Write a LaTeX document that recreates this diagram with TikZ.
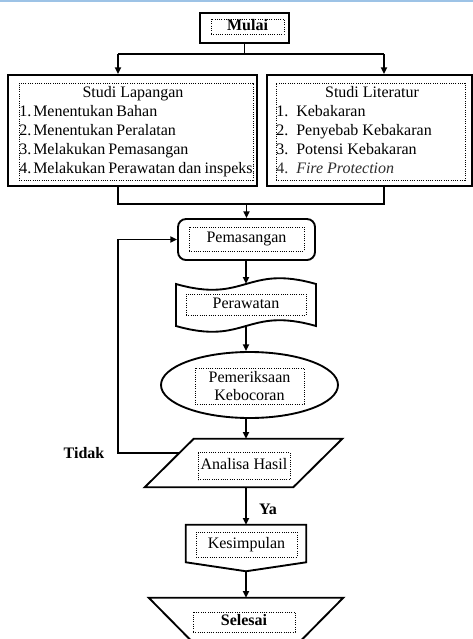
\documentclass[tikz,border=0pt]{standalone}
\usepackage{fontspec}
\setmainfont{Liberation Serif}
\usepackage{tikz}
\usetikzlibrary{arrows.meta}
\usetikzlibrary{positioning}
\usetikzlibrary{shapes.geometric}
\definecolor{birumuda}{RGB}{157,195,230}

\begin{document}
\begin{tikzpicture}[x=0.75pt,y=-0.75pt,
    font=\fontsize{12}{14}\selectfont,
    bentuk/.style={draw, line width=1.4pt, inner sep=0pt},
    bayang/.style={inner sep=0pt},
    titik/.style={draw, densely dotted, line width=0.7pt, inner sep=0pt, text height=8pt, text depth=2.5pt},
    titikdua/.style={draw, densely dotted, line width=0.7pt, inner sep=0pt, align=center},
    baris/.style={anchor=base west, inner sep=0pt},
    garis/.style={line width=1.2pt},
    panah/.style={line width=1.2pt, -{Triangle[length=5pt,width=4.5pt]}}]
    \clip (0,0) rectangle (473,639);
    \draw[line width=1.5pt, birumuda] (0,1) -- (473,1);

    % mulai
    \node[bentuk, minimum width=66.75pt, minimum height=22.5pt] (mulai) at (244.5,28) {};
    \node[titik, minimum width=54.75pt, minimum height=11.25pt, font=\fontsize{12}{14}\selectfont\bfseries] (mulaiteks) at (247.5,26.5) {Mulai};

    % studi lapangan dan literatur
    \node[bentuk, minimum width=186.75pt, minimum height=83.25pt] (lapangan) at (132.5,130.5) {};
    \node[titik, minimum width=175.5pt, minimum height=72.75pt] (lapangankotak) at (136,131.5) {};
    \node[anchor=base, inner sep=0pt] (judulkiri) at (133,97) {Studi Lapangan};
    \begin{scope}
        \clip (19,83) rectangle (253,180);
        \foreach \isi [count=\i] in {Menentukan Bahan, Menentukan Peralatan, Melakukan Pemasangan, Melakukan Perawatan dan inspeksi}
            \node[baris] (kiri\i) at (19,97+19*\i) {\spaceskip=2.4pt plus 1pt\i.\hspace{1.5pt}\isi};
    \end{scope}

    \node[bentuk, minimum width=153.75pt, minimum height=83.25pt] (literatur) at (369.5,130.5) {};
    \node[titik, minimum width=141.75pt, minimum height=72.75pt] (literaturkotak) at (370.5,131.5) {};
    \node[anchor=base, inner sep=0pt] (judulkanan) at (372,97) {Studi Literatur};
    \foreach \isi [count=\i] in {Kebakaran, Penyebab Kebakaran, Potensi Kebakaran}
        \node[baris] (kanan\i) at (276,97+19*\i) {\i.\enspace\isi};
    \node[baris, text=black!82] (kanan4) at (276,173) {4.\enspace\textit{Fire Protection}};

    % pemasangan
    \node[bentuk, rounded corners=6pt, minimum width=102.75pt, minimum height=30.75pt] (pasang) at (246.5,239.5) {};
    \node[titik, minimum width=86.25pt, minimum height=18pt] (pasangteks) at (246.5,239) {Pemasangan};

    % perawatan
    \node[bayang, minimum width=105pt, minimum height=31.5pt] (rawat) at (246,305) {};
    \draw[line width=1.4pt] (176,284) .. controls (246,304) and (246,264) .. (316,284) -- (316,326)
        .. controls (246,306) and (246,346) .. (176,326) -- cycle;
    \node[titik, minimum width=90pt, minimum height=15.75pt] (rawatteks) at (246,304.5) {Perawatan};

    % pemeriksaan
    \node[bentuk, ellipse, minimum width=132.75pt, minimum height=49.5pt] (periksa) at (249.5,385) {};
    \node[titikdua, minimum width=81.75pt, minimum height=27pt] (periksateks) at (249.5,386) {Pemeriksaan\\Kebocoran};

    % analisa
    \node[bayang, minimum width=111pt, minimum height=36pt] (analisa) at (243.5,463) {};
    \draw[line width=1.4pt] ([xshift=18.375pt]analisa.north west) -- ([xshift=18.375pt]analisa.north east)
        -- ([xshift=-18.375pt]analisa.south east) -- ([xshift=-18.375pt]analisa.south west) -- cycle;
    \node[titik, minimum width=69pt, minimum height=20.25pt] (analisateks) at (244,466) {Analisa Hasil};

    % kesimpulan
    \node[bayang, minimum width=90pt, minimum height=34.5pt] (simpul) at (246,548) {};
    \draw[line width=1.4pt] (simpul.north west) -- (simpul.north east) -- ([yshift=6.75pt]simpul.south east)
        -- (simpul.south) -- ([yshift=6.75pt]simpul.south west) -- cycle;
    \node[titik, minimum width=75.75pt, minimum height=18.75pt] (simpulteks) at (246.5,544.5) {Kesimpulan};

    % selesai
    \node[bayang, minimum width=145.5pt, minimum height=33pt] (selesai) at (246,620) {};
    \draw[line width=1.4pt] (selesai.north west) -- (selesai.north east) -- ([xshift=-33pt]selesai.south east)
        -- ([xshift=33pt]selesai.south west) -- cycle;
    \node[titik, minimum width=76.5pt, minimum height=15pt, font=\fontsize{12}{14}\selectfont\bfseries] (selesaiteks) at (244,622) {Selesai};

    % label
    \node[inner sep=0pt, font=\fontsize{12}{14}\selectfont\bfseries] (tidak) at (84,453) {Tidak};
    \node[inner sep=0pt, font=\fontsize{12}{14}\selectfont\bfseries] (ya) at (268,509) {Ya};

    % panah
    \coordinate (cabkiri) at (118,54);
    \coordinate (cabkanan) at (384,54);
    \draw[garis] (mulai.south) -- (mulai.south |- cabkiri);
    \draw[garis] (cabkiri) -- (cabkanan);
    \draw[panah] (cabkiri) -- (cabkiri |- lapangan.north);
    \draw[panah] (cabkanan) -- (cabkanan |- literatur.north);

    \coordinate (gabkiri) at (118,204);
    \coordinate (gabkanan) at (384,204);
    \draw[garis] (lapangan.south -| gabkiri) -- (gabkiri) -- (gabkanan) -- (literatur.south -| gabkanan);
    \draw[panah] (pasang.north |- gabkiri) -- (pasang);
    \draw[panah] (pasang.south -| rawat) -- (rawat.north);
    \draw[panah] (rawat.south) -- (rawat.south |- periksa.north);
    \draw[panah] (rawat.south |- periksa.south) -- (rawat.south |- analisa.north);
    \draw[panah] (rawat.south |- analisa.south) -- (simpul.north);
    \draw[panah] (simpul.south) -- (selesai.north);

    \coordinate (tepi) at (180,453);
    \coordinate (belok) at (118,453);
    \draw[panah] (tepi) -- (belok) |- (pasang.west);
\end{tikzpicture}
\end{document}
